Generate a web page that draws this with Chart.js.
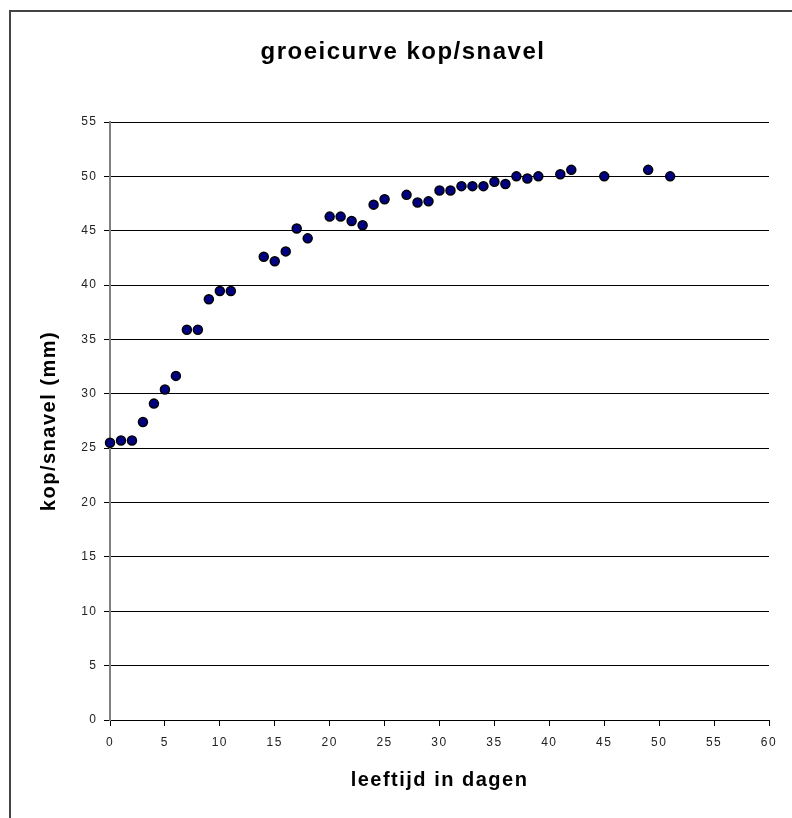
<!DOCTYPE html>
<html>
<head>
<meta charset="utf-8">
<script src="https://cdn.jsdelivr.net/npm/chart.js@4"></script>
<style>
  html, body { margin: 0; padding: 0; background: #fff; overflow: hidden; }
  #frame { position: absolute; left: 9px; top: 10px; width: 900px; height: 900px;
           border-left: 2px solid #444; border-top: 2px solid #444; }
  #wrap { position: absolute; left: 0; top: 0; width: 792px; height: 818px; }
</style>
</head>
<body>
<div id="frame"></div>
<div id="wrap"><canvas id="groei"></canvas></div>
<script>
// leeftijd (dagen) en kop/snavel lengte (mm)
const dagen = [0, 1, 2, 3, 4, 5, 6, 7, 8, 9, 10, 11, 14, 15, 16, 17, 18, 20, 21, 22, 23, 24, 25,
               27, 28, 29, 30, 31, 32, 33, 34, 35, 36, 37, 38, 39, 41, 42, 45, 49, 51]
const kopSnavel = [25.5, 25.7, 25.7, 27.4, 29.1, 30.4, 31.65, 35.9, 35.9, 38.7, 39.45, 39.45,
                   42.6, 42.2, 43.1, 45.2, 44.3, 46.3, 46.3, 45.9, 45.5, 47.4, 47.9,
                   48.3, 47.6, 47.7, 48.7, 48.7, 49.1, 49.1, 49.1, 49.5, 49.3, 50.0, 49.8, 50.0,
                   50.2, 50.6, 50.0, 50.6, 50.0]
const xTicks = [0, 5, 10, 15, 20, 25, 30, 35, 40, 45, 50, 55, 60]
const yTicks = [0, 5, 10, 15, 20, 25, 30, 35, 40, 45, 50, 55]

const FONT = "'Liberation Sans', Arial, sans-serif"

const punten = dagen.map((d, i) => ({ x: d, y: kopSnavel[i] }))

// de tekst in het origineel staat wat uit elkaar
const spacing = {
  id: 'spacing',
  beforeDraw: (chart) => { chart.ctx.letterSpacing = '1.5px' }
}

const ctx = document.getElementById('groei')
new Chart(ctx, {
  type: 'scatter',
  data: {
    datasets: [{
      label: 'kop/snavel',
      data: punten,
      pointRadius: 4.5,
      pointHoverRadius: 4.5,
      pointBackgroundColor: '#000080',
      pointBorderColor: '#000',
      pointBorderWidth: 1.5,
      clip: false
    }]
  },
  plugins: [spacing],
  options: {
    responsive: true,
    maintainAspectRatio: false,
    animation: false,
    layout: { padding: { left: 37, right: 23, top: 0, bottom: 0 } },
    plugins: {
      legend: { display: false },
      tooltip: { enabled: false },
      title: {
        display: true,
        text: 'groeicurve kop/snavel',
        color: '#000',
        font: { family: FONT, size: 24, weight: 'bold' },
        padding: { top: 37.6, bottom: 55.6 }
      }
    },
    scales: {
      x: {
        type: 'linear',
        min: xTicks[0],
        max: xTicks[xTicks.length - 1],
        afterBuildTicks: s => { s.ticks = xTicks.map(v => ({ value: v })) },
        afterFit: s => { s.height = 98 },
        ticks: { color: '#222', padding: 9, maxRotation: 0, font: { family: FONT, size: 12 } },
        grid: { drawOnChartArea: false, drawTicks: true, tickLength: 6, color: '#000' },
        border: { color: '#000', width: 1 },
        title: {
          display: true,
          text: 'leeftijd in dagen',
          color: '#000',
          font: { family: FONT, size: 20, weight: 'bold' },
          padding: { top: 0, bottom: 26 }
        }
      },
      y: {
        type: 'linear',
        min: yTicks[0],
        max: yTicks[yTicks.length - 1],
        afterBuildTicks: s => { s.ticks = yTicks.map(v => ({ value: v })) },
        afterFit: s => { s.width = 73 },
        ticks: { color: '#222', padding: 6.5, font: { family: FONT, size: 12 } },
        grid: { color: '#000', lineWidth: 1, drawTicks: true, tickLength: 6 },
        border: { color: '#808080', width: 2 },
        title: {
          display: true,
          text: 'kop/snavel (mm)',
          color: '#000',
          font: { family: FONT, size: 20, weight: 'bold' },
          padding: { top: 0, bottom: 0 }
        }
      }
    }
  }
})
</script>
</body>
</html>
